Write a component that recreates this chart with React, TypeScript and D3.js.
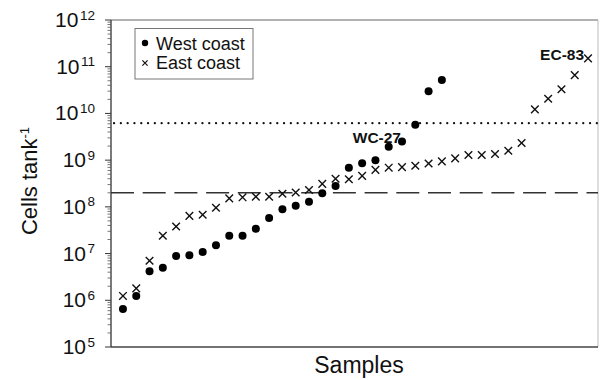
import React from "react";
import * as d3 from "d3";

// samples sorted by cell count, one value per sample
const westCoast: number[] = [
  6.5e5, 1.24e6, 4.2e6, 5.0e6, 8.9e6, 9.2e6, 1.08e7, 1.5e7, 2.4e7, 2.4e7,
  3.4e7, 5.8e7, 8.9e7, 1.06e8, 1.29e8, 1.95e8, 2.8e8, 6.9e8, 8.6e8, 9.9e8,
  1.94e9, 2.5e9, 5.7e9, 3.0e10, 5.2e10,
];

const eastCoast: number[] = [
  1.24e6, 1.8e6, 7.0e6, 2.4e7, 3.8e7, 6.4e7, 6.8e7, 9.6e7, 1.52e8, 1.6e8,
  1.65e8, 1.65e8, 1.91e8, 2.03e8, 2.3e8, 3.1e8, 4.0e8, 3.9e8, 4.6e8, 6.2e8,
  6.9e8, 7.1e8, 7.6e8, 8.5e8, 9.4e8, 1.09e9, 1.29e9, 1.29e9, 1.35e9, 1.59e9,
  2.33e9, 1.22e10, 2.06e10, 3.3e10, 6.6e10, 1.51e11,
];

const decades: number[] = [5, 6, 7, 8, 9, 10, 11, 12];
const dottedLevel = 6.2e9;
const dashedLevel = 2.0e8;
const labelWC = { text: "WC-27", index: 21 };
const labelEC = { text: "EC-83", index: 35 };

const FONT = "'Liberation Sans', Arial, Helvetica, sans-serif";

const App: React.FC = () => {
  const width = 600;
  const height = 380;
  const left = 111;
  const right = 598;
  const top = 20;
  const bottom = 347;

  const x = d3.scaleLinear().domain([-0.9, 35.75]).range([left, right]);
  const y = d3.scaleLog().domain([1e5, 1e12]).range([bottom, top]);

  const minor: number[] = [];
  decades.slice(0, -1).forEach(k => {
    for (let m = 2; m <= 9; m++) minor.push(m * Math.pow(10, k));
  });

  const cross = (cx: number, cy: number, s: number) =>
    `M${cx - s},${cy - s}L${cx + s},${cy + s}M${cx - s},${cy + s}L${cx + s},${cy - s}`;

  return (
    <svg
      width={width}
      height={height}
      style={{ position: "absolute", left: 0, top: 0, background: "#fff" }}
      fontFamily={FONT}
    >
      {/* frame */}
      <line x1={left} x2={right} y1={top} y2={top} stroke="#666" strokeWidth={1.2} />
      <line x1={right} x2={right} y1={top} y2={bottom} stroke="#bbb" strokeWidth={1} />
      <line x1={left} x2={right} y1={bottom} y2={bottom} stroke="#444" strokeWidth={1.3} />
      <line x1={left} x2={left} y1={top} y2={bottom} stroke="#333" strokeWidth={1.3} />

      {/* reference lines */}
      <line
        x1={left + 3}
        x2={right}
        y1={y(dottedLevel)}
        y2={y(dottedLevel)}
        stroke="#111"
        strokeWidth={2.2}
        strokeDasharray="0.1,6.7"
        strokeLinecap="round"
      />
      <line
        x1={left}
        x2={right}
        y1={y(dashedLevel)}
        y2={y(dashedLevel)}
        stroke="#333"
        strokeWidth={1.4}
        strokeDasharray="23,8.7"
      />

      {/* y ticks */}
      {minor.map((v, i) => (
        <line key={"m" + i} x1={left - 3.5} x2={left} y1={y(v)} y2={y(v)} stroke="#555" strokeWidth={0.8} />
      ))}
      {decades.map(k => (
        <g key={k}>
          <line x1={left - 6} x2={left} y1={y(Math.pow(10, k))} y2={y(Math.pow(10, k))} stroke="#333" strokeWidth={1} />
          <text x={95} y={y(Math.pow(10, k)) + 7} textAnchor="end" fontSize={21} fill="#111">
            <tspan>10</tspan>
            <tspan dx={1.5} dy={-7.5} fontSize={13.5}>{k}</tspan>
          </text>
        </g>
      ))}

      {/* axis titles */}
      <text transform="translate(37,181) rotate(-90)" textAnchor="middle" fontSize={22} fill="#111">
        Cells tank
        <tspan dy={-8} fontSize={13}>-1</tspan>
      </text>
      <text x={359} y={373} textAnchor="middle" fontSize={23} fill="#111">
        Samples
      </text>

      {/* data */}
      {eastCoast.map((v, i) => (
        <path key={"e" + i} d={cross(x(i), y(v), 3.8)} stroke="#111" strokeWidth={1.4} fill="none" />
      ))}
      {westCoast.map((v, i) => (
        <circle key={"w" + i} cx={x(i)} cy={y(v)} r={4} fill="#000" />
      ))}

      {/* point labels */}
      <text
        x={x(labelWC.index) - 1}
        y={y(westCoast[labelWC.index]) + 1.5}
        textAnchor="end"
        fontSize={15.5}
        fontWeight="bold"
        fill="#111"
      >
        {labelWC.text}
      </text>
      <text
        x={x(labelEC.index) - 4}
        y={y(eastCoast[labelEC.index]) + 2}
        textAnchor="end"
        fontSize={15.5}
        fontWeight="bold"
        fill="#111"
      >
        {labelEC.text}
      </text>

      {/* legend */}
      <rect x={135} y={28.5} width={118} height={50.5} fill="#fff" stroke="#777" strokeWidth={1} />
      <circle cx={145} cy={43} r={3.2} fill="#000" />
      <text x={156} y={49.5} fontSize={18} fill="#111">West coast</text>
      <path d={cross(145, 63, 2.6)} stroke="#111" strokeWidth={1.2} fill="none" />
      <text x={156} y={68.5} fontSize={18} fill="#111">East coast</text>
    </svg>
  );
};

export default App;
